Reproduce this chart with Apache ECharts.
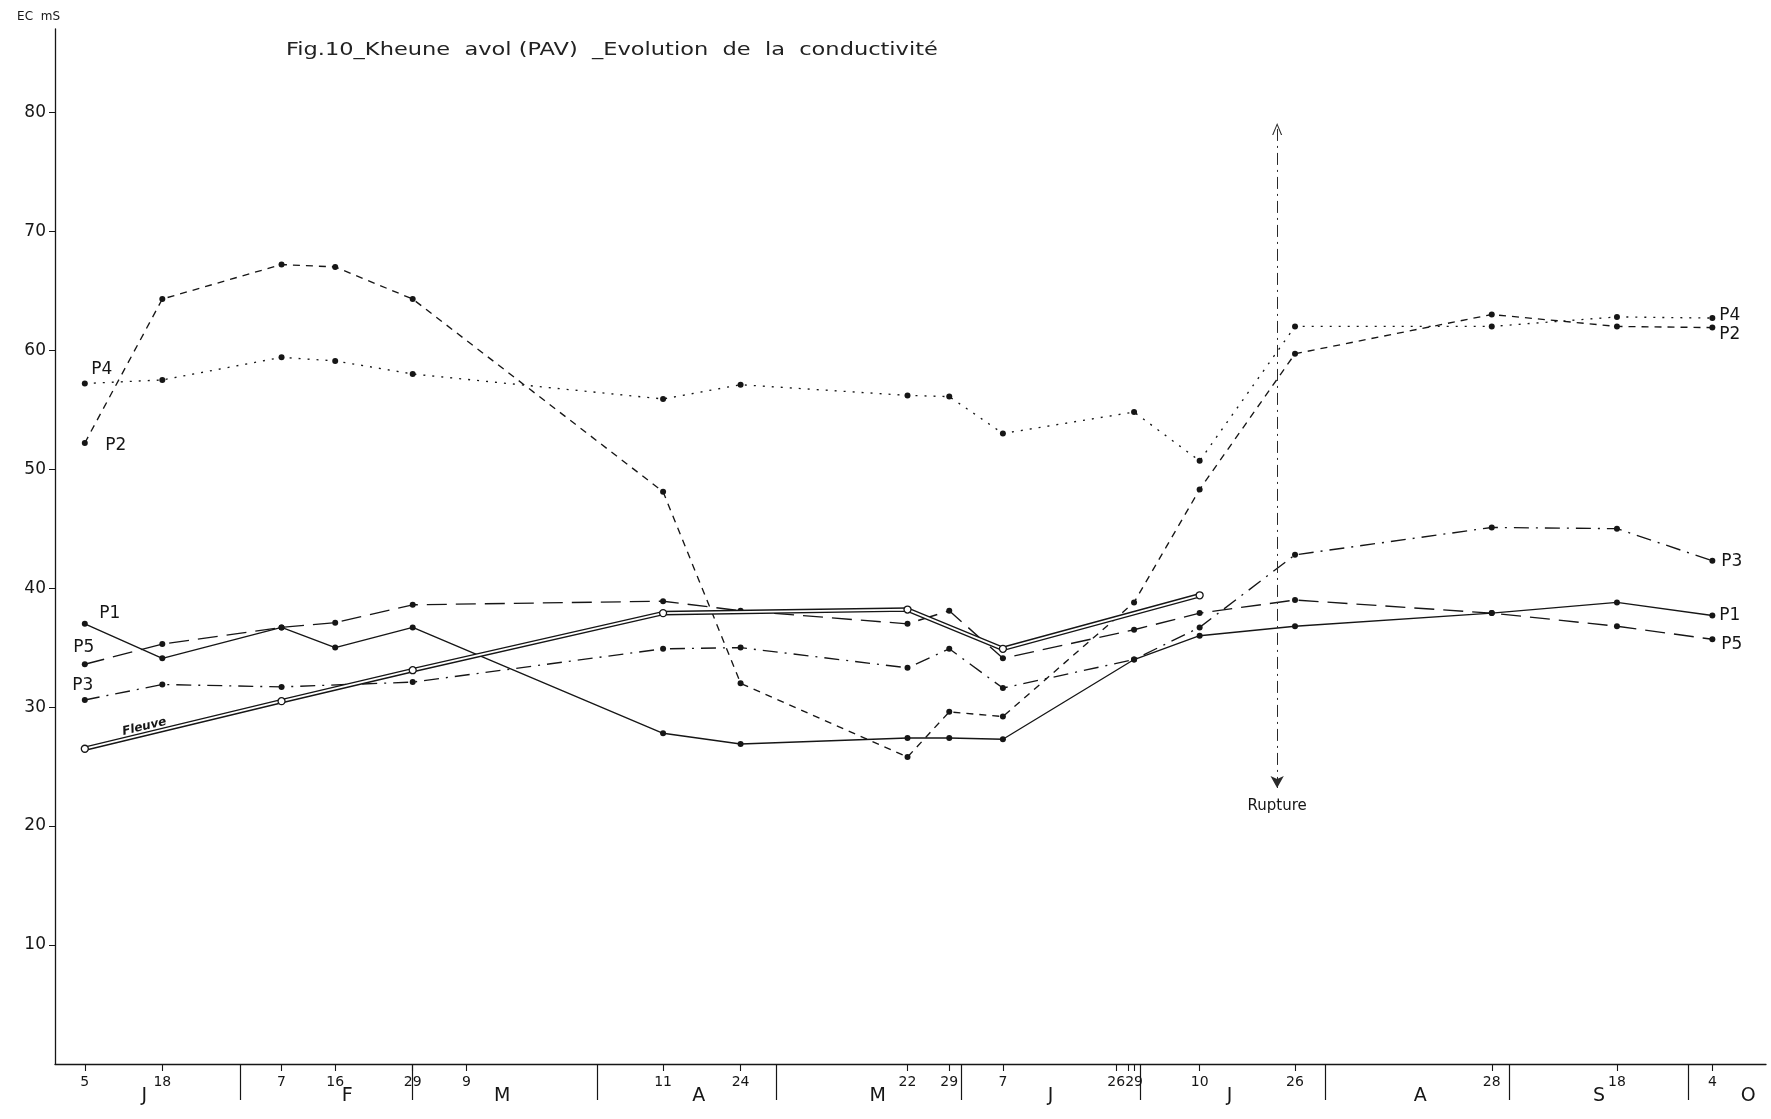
<!DOCTYPE html>
<html><head><meta charset="utf-8">
<script src="https://cdn.jsdelivr.net/npm/echarts@6/dist/echarts.min.js"></script>
<style>html,body{margin:0;padding:0;background:#fff}#c{width:1771px;height:1119px}</style>
</head><body><div id="c"></div>
<script>
// ---- data (leap year: 29 Feb exists) ----
const sampleDates = ['01-05','01-18','02-07','02-16','02-29','04-11','04-24','05-22','05-29','06-07','06-29','07-10','07-26','08-28','09-18','10-04'];
const P1 = [37.0, 34.1, 36.7, 35.0, 36.7, 27.8, 26.9, 27.4, 27.4, 27.3, 34.0, 36.0, 36.8, 37.9, 38.8, 37.7];
const P2 = [52.2, 64.3, 67.2, 67.0, 64.3, 48.1, 32.0, 25.8, 29.6, 29.2, 38.8, 48.3, 59.7, 63.0, 62.0, 61.9];
const P3 = [30.6, 31.9, 31.7, null, 32.1, 34.9, 35.0, 33.3, 34.9, 31.6, 34.0, 36.7, 42.8, 45.1, 45.0, 42.3];
const P4 = [57.2, 57.5, 59.4, 59.1, 58.0, 55.9, 57.1, 56.2, 56.1, 53.0, 54.8, 50.7, 62.0, 62.0, 62.8, 62.7];
const P5 = [33.6, 35.3, 36.7, 37.1, 38.6, 38.9, 38.1, 37.0, 38.1, 34.1, 36.5, 37.9, 39.0, 37.9, 36.8, 35.7];
const Fleuve = [26.5, null, 30.5, null, 33.1, 37.9, null, 38.2, null, 34.9, null, 39.4, null, null, null, null];

const tickDates = ['01-05','01-18','02-07','02-16','02-29','03-09','04-11','04-24','05-22','05-29','06-07','06-26','06-28','06-29','07-10','07-26','08-28','09-18','10-04'];
const unlabeledTickDates = ['06-28'];
const monthLetters = ['J','F','M','A','M','J','J','A','S','O'];
const monthLetterDates = ['01-15','02-18','03-15','04-17','05-17','06-15','07-15','08-16','09-15','10-10'];
const yTickValues = [10,20,30,40,50,60,70,80];
const ruptureDate = '07-23';
const ruptureSpan = [78.6, 23.2];

const TITLE = 'Fig.10_Kheune  avol (PAV)  _Evolution  de  la  conductivité';

// ---- helpers ----
const CUM = [0,31,60,91,121,152,182,213,244,274,305,335];
function doy(s){ const [m,d] = s.split('-').map(Number); return CUM[m-1] + d; }
const dayLabel = {};
tickDates.forEach(s => { if (!unlabeledTickDates.includes(s)) dayLabel[doy(s)] = String(Number(s.split('-')[1])); });
const monthLabel = {};
monthLetterDates.forEach((s,i) => { monthLabel[doy(s)] = monthLetters[i]; });
const monthBoundaries = CUM.slice(1,10);

const INK = '#161616';
const FONT = 'DejaVu Sans';

function pairs(vals){
  const out = [];
  sampleDates.forEach((s,i) => { if (vals[i] != null) out.push([doy(s), vals[i]]); });
  return out;
}

function lineSeries(name, vals, dash, startLabel, endOffset){
  const data = pairs(vals);
  data[0] = { value: data[0], label: Object.assign({ show: true, formatter: name, position: 'inside', color: INK, fontSize: 17, fontFamily: FONT }, startLabel) };
  return {
    name, type: 'line', data, silent: true, animation: false,
    symbol: 'circle', symbolSize: 6, showAllSymbol: true, connectNulls: true,
    itemStyle: { color: INK },
    lineStyle: { color: INK, width: 1.35, type: dash },
    endLabel: { show: true, formatter: name, color: INK, fontSize: 17, fontFamily: FONT, distance: 7, offset: endOffset },
    z: 3
  };
}

const series = [
  lineSeries('P1', P1, 'solid', { offset: [25, -10] }, [0, 0]),
  lineSeries('P2', P2, [7, 6], { offset: [31, 3] }, [0, 7]),
  lineSeries('P3', P3, [15, 7, 2, 7], { offset: [-2, -14] }, [2, 1]),
  lineSeries('P4', P4, [2, 7], { offset: [17, -14] }, [0, -3]),
  lineSeries('P5', P5, [20, 9], { offset: [-1, -17] }, [2, 5]),
  {
    name: 'Fleuve-outer', type: 'line', data: pairs(Fleuve), silent: true, animation: false,
    symbol: 'none', connectNulls: true,
    lineStyle: { color: INK, width: 4.6 }, z: 4
  },
  (function(){
    const data = pairs(Fleuve);
    data[0] = { value: data[0], label: { show: true, formatter: 'Fleuve', position: 'inside', color: INK, fontSize: 12, fontStyle: 'italic', fontWeight: 'bold', fontFamily: FONT, offset: [63, -8], rotate: 13 } };
    return {
      name: 'Fleuve', type: 'line', data, silent: true, animation: false,
      symbol: 'circle', symbolSize: 7, showAllSymbol: true, connectNulls: true,
      itemStyle: { color: '#fff', borderColor: INK, borderWidth: 1.3 },
      lineStyle: { color: '#fff', width: 1.8 }, z: 5,
      markLine: {
        silent: true, animation: false,
        symbol: ['path://M0,12 L6,0 L12,12 L10.6,12 L6,2.6 L1.4,12 Z', 'arrow'],
        symbolSize: [10, 12],
        itemStyle: { color: '#222' },
        lineStyle: { color: '#2a2a2a', width: 1, type: [12, 5, 2, 5] },
        label: { show: true, position: 'end', formatter: 'Rupture', color: INK, fontSize: 15, fontFamily: FONT, distance: 11 },
        data: [[ { coord: [doy(ruptureDate), ruptureSpan[0]] }, { coord: [doy(ruptureDate), ruptureSpan[1]] } ]]
      }
    };
  })()
];

const chart = echarts.init(document.getElementById('c'), null, { renderer: 'canvas' });
chart.setOption({
  backgroundColor: '#fff',
  animation: false,
  graphic: [{
    type: 'text', x: 286, y: 41, scaleX: 1.25, silent: true,
    style: { text: TITLE, font: '18px "DejaVu Sans"', fill: '#222' }
  }],
  grid: { left: 55, right: 5, top: 29, bottom: 55, containLabel: false },
  xAxis: [
    {
      type: 'value', min: 0, max: 287, gridIndex: 0, position: 'bottom',
      splitLine: { show: false },
      axisLine: { show: true, lineStyle: { color: INK, width: 1.3 } },
      axisTick: { show: true, customValues: tickDates.map(doy), length: 7, lineStyle: { color: INK, width: 1.1 } },
      axisLabel: { show: true, customValues: Object.keys(dayLabel).map(Number), formatter: v => dayLabel[v] || '', color: INK, fontSize: 14, fontFamily: FONT, margin: 11 }
    },
    {
      type: 'value', min: 0, max: 287, gridIndex: 0, position: 'bottom',
      splitLine: { show: false },
      axisLine: { show: false },
      axisTick: { show: true, customValues: monthBoundaries, length: 36, lineStyle: { color: INK, width: 1.2 } },
      axisLabel: { show: true, customValues: Object.keys(monthLabel).map(Number), formatter: v => monthLabel[v] || '', color: INK, fontSize: 19, fontFamily: FONT, margin: 23 }
    }
  ],
  yAxis: {
    type: 'value', min: 0, max: 87, interval: 10,
    name: 'EC  mS', nameLocation: 'end', nameGap: 6,
    nameTextStyle: { color: INK, fontSize: 12, fontFamily: FONT, align: 'right', padding: [0, -5, 0, 0] },
    splitLine: { show: false },
    axisLine: { show: true, lineStyle: { color: INK, width: 1.3 } },
    axisTick: { show: true, customValues: yTickValues, length: 6, lineStyle: { color: INK } },
    axisLabel: { show: true, customValues: yTickValues, color: INK, fontSize: 17, fontFamily: FONT, margin: 9 }
  },
  series
});
</script>
</body></html>
